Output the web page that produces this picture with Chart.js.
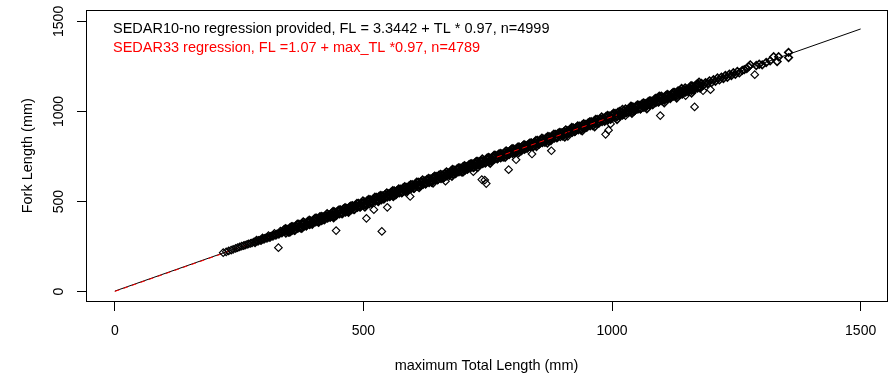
<!DOCTYPE html>
<html>
<head>
<meta charset="utf-8">
<script src="https://cdn.jsdelivr.net/npm/chart.js@4.4.1/dist/chart.umd.min.js"></script>
<style>
  body { margin: 0; background: #fff; }
  #wrap { width: 893px; height: 378px; }
</style>
</head>
<body>
<div id="wrap"><canvas id="chart"></canvas></div>
<script>
// Axis ticks
const xTicks = [0, 500, 1000, 1500];
const yTicks = [0, 500, 1000, 1500];

// Regression lines (endpoints)
const sedar10TL = [0, 1500];
const sedar10FL = [3, 1458];
const sedar33TL = [0, 1010];
const sedar33FL = [1, 981];

const legendLabels = [
  'SEDAR10-no regression provided, FL = 3.3442 + TL * 0.97, n=4999',
  'SEDAR33 regression, FL =1.07 + max_TL *0.97, n=4789',
];
const legendColors = ['#000000', '#ff0000'];

// Observations [total length, fork length]
const smallFish = [
  [218,216],[224,221],[229,226],[234,231],[238,235],[243,240],[247,244],[251,248],[255,252],[259,255],
  [262,258],[266,262],[269,265],[273,268],[276,271],[280,276],[283,278],[286,281],[289,285],[292,286],
  [295,289],[298,293],[301,295],[304,298],[307,301],[310,303],[313,307],[316,310],[319,313],[322,315],
  [325,319],[328,321],[331,325],[334,327],[337,331],
  [282,271],[288,279],[294,283],[300,290],[306,295],[312,300],[318,306],[324,312],[330,318],[336,324],
  [285,286],[297,298],[309,311],[321,323],[333,336],
];

const midFish = [
  [340,343],[346,346],[352,354],[358,361],[364,364],[370,374],[376,377],[382,381],[388,390],[394,393],
  [342,335],[348,343],[354,344],[360,353],[366,358],[372,362],[378,373],[384,375],[390,384],[396,387],
  [344,325],[350,334],[356,339],[362,341],[368,352],[374,355],[380,362],[386,369],[392,372],[398,382],
  [343,350],[355,360],[367,374],[379,387],[391,396],[349,330],[361,340],[373,354],[385,364],[397,374],
  [400,399],[406,407],[412,414],[418,415],[424,423],[430,426],[436,436],[442,443],[448,446],[454,453],
  [402,394],[408,397],[414,405],[420,413],[426,415],[432,423],[438,426],[444,434],[450,442],[456,442],
  [404,387],[410,390],[416,394],[422,402],[428,409],[434,417],[440,418],[446,425],[452,432],[458,435],
  [403,408],[415,418],[427,432],[439,445],[451,454],[409,388],[421,398],[433,412],[445,422],[457,432],
  [460,459],[466,462],[472,470],[478,477],[484,480],[490,490],[496,493],[502,497],[508,506],[514,509],
  [462,451],[468,459],[474,460],[480,469],[486,474],[492,478],[498,489],[504,491],[510,500],[516,503],
  [464,441],[470,450],[476,455],[482,457],[488,468],[494,471],[500,478],[506,485],[512,488],[518,498],
  [463,466],[475,476],[487,490],[499,503],[511,512],[469,446],[481,456],[493,470],[505,480],[517,490],
  [520,515],[526,523],[532,530],[538,531],[544,539],[550,542],[556,552],[562,559],[568,562],[574,569],
  [522,510],[528,513],[534,521],[540,529],[546,531],[552,539],[558,542],[564,550],[570,558],[576,558],
  [524,503],[530,506],[536,510],[542,518],[548,525],[554,533],[560,534],[566,541],[572,548],[578,551],
  [523,524],[535,534],[547,548],[559,561],[571,570],[529,504],[541,514],[553,528],[565,538],[577,548],
  [580,576],[586,579],[592,587],[598,594],[604,597],[610,607],[616,610],[622,614],[628,623],[634,626],
  [582,568],[588,576],[594,577],[600,586],[606,591],[612,595],[618,606],[624,608],[630,617],[636,620],
  [584,558],[590,567],[596,572],[602,574],[608,585],[614,588],[620,595],[626,602],[632,605],[638,615],
  [583,583],[595,593],[607,607],[619,620],[631,629],[589,563],[601,573],[613,587],[625,597],[637,607],
  [640,632],[646,640],[652,647],[658,648],[664,656],[670,659],[676,669],[682,676],[688,679],[694,686],
  [642,627],[648,630],[654,638],[660,646],[666,648],[672,656],[678,659],[684,667],[690,675],[696,675],
  [644,620],[650,623],[656,627],[662,635],[668,642],[674,650],[680,651],[686,658],[692,665],[698,668],
  [643,641],[655,651],[667,665],[679,678],[691,687],[649,621],[661,631],[673,645],[685,655],[697,665],
  [700,692],[706,695],[712,703],[718,710],[724,713],[730,723],[736,726],[742,730],[748,739],[754,742],
  [702,684],[708,692],[714,693],[720,702],[726,707],[732,711],[738,722],[744,724],[750,733],[756,736],
  [704,674],[710,683],[716,688],[722,690],[728,701],[734,704],[740,711],[746,718],[752,721],[758,731],
  [703,699],[715,709],[727,723],[739,736],[751,745],[709,679],[721,689],[733,703],[745,713],[757,723],
  [352,330],[376,352],[410,385],[440,410],[470,440],[503,470],[530,500],[560,527],[585,555],[612,577],
  [640,603],[678,640],[700,663],[730,690],[755,712],
];

const largeFish = [
  [760,748],[766,756],[772,763],[778,764],[784,772],[790,775],[796,785],[802,792],[808,795],[814,802],
  [762,743],[768,746],[774,754],[780,762],[786,764],[792,772],[798,775],[804,783],[810,791],[816,791],
  [764,736],[770,739],[776,743],[782,751],[788,758],[794,766],[800,767],[806,774],[812,781],[818,784],
  [763,757],[775,767],[787,781],[799,794],[811,803],[769,737],[781,747],[793,761],[805,771],[817,781],
  [820,808],[826,811],[832,819],[838,826],[844,829],[850,839],[856,842],[862,846],[868,855],[874,858],
  [822,800],[828,808],[834,809],[840,818],[846,823],[852,827],[858,838],[864,840],[870,849],[876,852],
  [824,790],[830,799],[836,804],[842,806],[848,817],[854,820],[860,827],[866,834],[872,837],[878,847],
  [823,815],[835,825],[847,839],[859,852],[871,861],[829,795],[841,805],[853,819],[865,829],[877,839],
  [880,865],[886,873],[892,880],[898,881],[904,889],[910,892],[916,902],[922,909],[928,912],[934,919],
  [882,860],[888,863],[894,871],[900,879],[906,881],[912,889],[918,892],[924,900],[930,908],[936,908],
  [884,853],[890,856],[896,860],[902,868],[908,875],[914,883],[920,884],[926,891],[932,898],[938,901],
  [883,874],[895,884],[907,898],[919,911],[931,920],[889,854],[901,864],[913,878],[925,888],[937,898],
  [940,925],[946,928],[952,936],[958,943],[964,946],[970,956],[976,959],[982,963],[988,972],[994,975],
  [942,917],[948,925],[954,926],[960,935],[966,940],[972,944],[978,955],[984,957],[990,966],[996,969],
  [944,907],[950,916],[956,921],[962,923],[968,934],[974,937],[980,944],[986,951],[992,954],[998,964],
  [943,932],[955,942],[967,956],[979,969],[991,978],[949,912],[961,922],[973,936],[985,946],[997,956],
  [1000,981],[1006,989],[1012,996],[1018,997],[1024,1005],[1030,1008],[1036,1018],[1042,1025],[1048,1028],[1054,1035],
  [1002,976],[1008,979],[1014,987],[1020,995],[1026,997],[1032,1005],[1038,1008],[1044,1016],[1050,1024],[1056,1024],
  [1004,969],[1010,972],[1016,976],[1022,984],[1028,991],[1034,999],[1040,1000],[1046,1007],[1052,1014],[1058,1017],
  [1003,990],[1015,1000],[1027,1014],[1039,1027],[1051,1036],[1009,970],[1021,980],[1033,994],[1045,1004],[1057,1014],
  [1060,1041],[1066,1044],[1072,1052],[1078,1059],[1084,1062],[1090,1072],[1096,1075],[1102,1079],[1108,1088],[1114,1091],
  [1062,1033],[1068,1041],[1074,1042],[1080,1051],[1086,1056],[1092,1060],[1098,1071],[1104,1073],[1110,1082],[1116,1085],
  [1064,1023],[1070,1032],[1076,1037],[1082,1039],[1088,1050],[1094,1053],[1100,1060],[1106,1067],[1112,1070],[1118,1080],
  [1063,1048],[1075,1058],[1087,1072],[1099,1085],[1111,1094],[1069,1028],[1081,1038],[1093,1052],[1105,1062],[1117,1072],
  [1120,1097],[1126,1105],[1132,1112],[1138,1113],[1144,1121],[1150,1124],[1156,1134],[1162,1141],[1168,1144],[1174,1151],
  [1122,1092],[1128,1095],[1134,1103],[1140,1111],[1146,1113],[1152,1121],[1158,1124],[1164,1132],[1170,1140],[1176,1140],
  [1124,1085],[1130,1088],[1136,1092],[1142,1100],[1148,1107],[1154,1115],[1160,1116],[1166,1123],[1172,1130],[1178,1133],
  [1123,1106],[1135,1116],[1147,1130],[1159,1143],[1171,1152],[1129,1086],[1141,1096],[1153,1110],[1165,1120],[1177,1130],
  [785,745],[812,770],[848,805],[870,825],[905,858],[940,893],[965,915],[1010,955],[1040,990],[1070,1015],
  [1105,1048],[1130,1075],[1160,1102],
  [1021,1012],[1038,1030],[1095,1085],[1140,1128],[1175,1163],
  [1180,1155],[1188,1160],[1196,1170],[1204,1176],[1212,1186],[1220,1191],[1228,1200],[1236,1207],[1244,1215],[1252,1222],
  [1184,1146],[1192,1155],[1200,1160],[1208,1168],[1216,1175],[1224,1183],[1232,1190],[1240,1199],[1248,1206],[1256,1214],
  [1262,1228],[1266,1232],[1271,1238],[1275,1249],[1278,1259],[1290,1255],[1296,1262],[1302,1259],[1310,1272],[1318,1281],
  [1325,1304],[1335,1304],[1332,1277],[1355,1328],[1355,1299],
];

const outliers = [
  [329,244],[445,339],[506,407],[521,455],[537,334],[548,468],[594,528],[665,613],[721,666],[738,622],
  [744,619],[747,600],[792,677],[807,732],[839,764],[878,782],[911,862],[987,873],[993,896],[997,931],
  [1027,977],[1097,977],[1148,1088],[1166,1025],[1183,1115],[1198,1121],[1287,1204],
];

const FONT = "'Liberation Sans', Arial, sans-serif";
const tickFont = { family: FONT, size: 14 };
const titleFont = { family: FONT, size: 14.5 };

const toXY = (pairs) => pairs.map(([x, y]) => ({ x, y }));
const zipXY = (xs, ys) => xs.map((x, i) => ({ x, y: ys[i] }));

const diamond = {
  type: 'scatter',
  pointStyle: 'rectRot',
  pointRadius: 3.8,
  pointBorderWidth: 1.15,
  pointBorderColor: '#000',
  pointBackgroundColor: 'rgba(0,0,0,0)',
  showLine: false,
};
// the band holds thousands of fish in the original, so draw its marks a bit heavier
const bandDiamond = { ...diamond, pointBorderWidth: 1.6 };

// Box around the plot region and the text legend in its top left corner
const boxAndLegend = {
  id: 'boxAndLegend',
  afterDraw(chart) {
    const { ctx, chartArea } = chart;
    ctx.save();
    ctx.strokeStyle = '#000';
    ctx.lineWidth = 1;
    const l = Math.round(chartArea.left) + 0.5;
    const t = Math.round(chartArea.top) + 0.5;
    const r = Math.round(chartArea.right) + 0.5;
    const b = Math.round(chartArea.bottom) + 0.5;
    ctx.strokeRect(l, t, r - l, b - t);

    ctx.font = `14.5px ${FONT}`;
    ctx.textBaseline = 'alphabetic';
    ctx.textAlign = 'left';
    legendLabels.forEach((label, i) => {
      ctx.fillStyle = legendColors[i];
      ctx.fillText(label, 113, 33 + i * 18.5);
    });
    ctx.restore();
  },
};

const ctx = document.getElementById('chart').getContext('2d');

const myChart = new Chart(ctx, {
  data: {
    datasets: [
      { ...diamond, label: 'small', data: toXY(smallFish), order: 0 },
      { ...bandDiamond, label: 'mid', data: toXY(midFish), order: 0 },
      { ...diamond, label: 'outliers', data: toXY(outliers), order: 0 },
      {
        type: 'line',
        label: legendLabels[1],
        data: zipXY(sedar33TL, sedar33FL),
        borderColor: '#ff0000',
        borderWidth: 1,
        borderDash: [5, 4],
        pointRadius: 0,
        order: 1,
      },
      { ...bandDiamond, label: 'large', data: toXY(largeFish), order: 2 },
      {
        type: 'line',
        label: legendLabels[0],
        data: zipXY(sedar10TL, sedar10FL),
        borderColor: '#000',
        borderWidth: 1,
        pointRadius: 0,
        order: 3,
      },
    ],
  },
  options: {
    responsive: true,
    maintainAspectRatio: false,
    animation: false,
    devicePixelRatio: 1,
    events: [],
    layout: { padding: { top: 9, right: 6, left: 0, bottom: 0 } },
    plugins: {
      legend: { display: false },
      tooltip: { enabled: false },
    },
    scales: {
      x: {
        type: 'linear',
        min: -58,
        max: 1553,
        afterBuildTicks: (s) => { s.ticks = xTicks.map((v) => ({ value: v })); },
        afterFit: (s) => { s.height = 77; },
        grid: { drawOnChartArea: false, color: '#000', tickLength: 10 },
        border: { color: '#000' },
        ticks: {
          color: '#000',
          font: tickFont,
          padding: 12,
          maxRotation: 0,
          autoSkip: false,
          callback: (v) => String(v),
        },
        title: {
          display: true,
          text: 'maximum Total Length (mm)',
          color: '#000',
          font: titleFont,
          padding: { top: 0, bottom: 3 },
        },
      },
      y: {
        type: 'linear',
        min: -52,
        max: 1561,
        afterBuildTicks: (s) => { s.ticks = yTicks.map((v) => ({ value: v })); },
        afterFit: (s) => { s.width = 86; },
        grid: { drawOnChartArea: false, color: '#000', tickLength: 9 },
        border: { color: '#000' },
        ticks: {
          color: '#000',
          font: tickFont,
          padding: 2,
          minRotation: 90,
          maxRotation: 90,
          crossAlign: 'center',
          autoSkip: false,
          callback: (v) => String(v),
        },
        title: {
          display: true,
          text: 'Fork Length (mm)',
          color: '#000',
          font: titleFont,
          padding: { top: 19, bottom: 0 },
        },
      },
    },
  },
  plugins: [boxAndLegend],
});
</script>
</body>
</html>
